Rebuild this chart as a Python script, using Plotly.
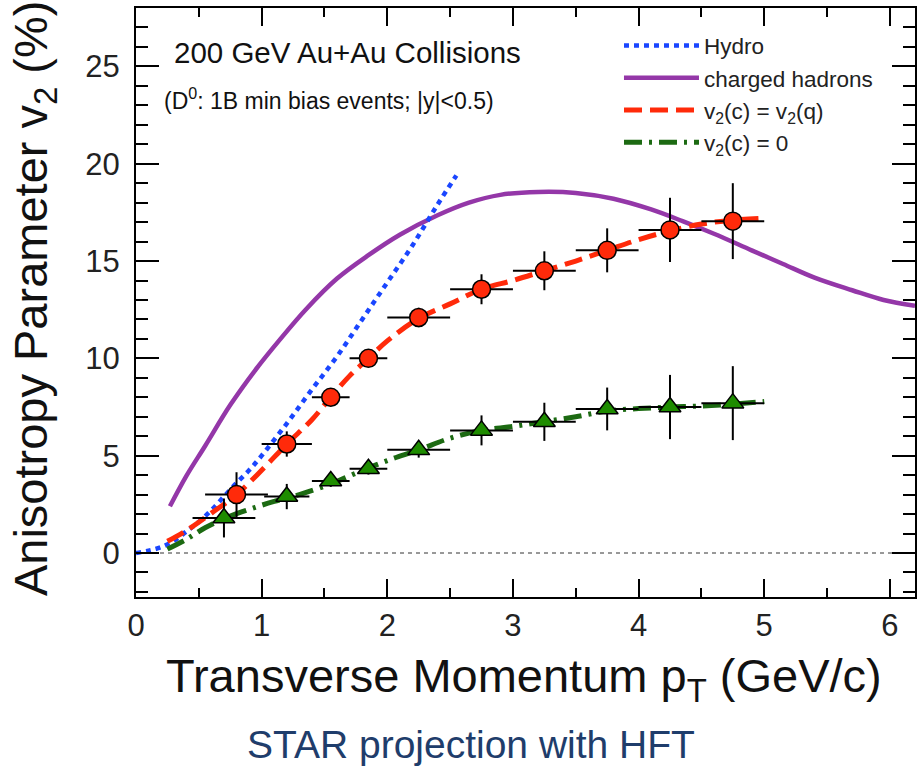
import plotly.graph_objects as go

# ---------------- data ----------------
hydro_x = [0, 0.1, 0.2, 0.3, 0.4, 0.5, 0.6, 0.7, 0.8, 0.9, 1.0, 1.2, 1.4, 1.6, 1.8, 2.0, 2.2, 2.4, 2.55]
hydro_y = [0, 0.12, 0.3, 0.62, 1.1, 1.6, 2.2, 2.9, 3.6, 4.25, 5.0, 6.65, 8.4, 10.1, 12.0, 13.9, 15.8, 17.9, 19.4]

ch_x = [0.27, 0.4, 0.55, 0.75, 0.95, 1.15, 1.35, 1.6, 1.85, 2.1, 2.4, 2.65, 2.9, 3.2, 3.5, 3.8,
        4.1, 4.35, 4.6, 4.9, 5.15, 5.4, 5.7, 5.95, 6.2]
ch_y = [2.4, 3.95, 5.5, 7.6, 9.4, 11.0, 12.5, 14.1, 15.3, 16.35, 17.35, 18.0, 18.4, 18.55, 18.5, 18.2,
        17.65, 17.05, 16.4, 15.55, 14.85, 14.15, 13.5, 13.0, 12.7]

cq_x = [0.25, 0.4, 0.6, 0.8, 1.0, 1.2, 1.4, 1.55, 1.7, 1.85, 2.0, 2.25, 2.5, 2.75, 3.0, 3.25, 3.5,
        3.75, 4.0, 4.25, 4.5, 4.75, 5.0]
cq_y = [0.6, 1.15, 2.05, 3.0, 4.25, 5.6, 6.85, 8.0, 9.1, 10.0, 10.9, 12.05, 12.8, 13.55, 14.0, 14.5,
        15.0, 15.55, 16.1, 16.55, 16.9, 17.1, 17.2]

c0_x = [0.25, 0.4, 0.55, 0.75, 0.95, 1.1, 1.3, 1.55, 1.75, 2.0, 2.25, 2.5, 2.75, 3.0, 3.25, 3.5,
        3.75, 4.0, 4.25, 4.5, 4.75, 5.0]
c0_y = [0.2, 0.7, 1.3, 1.9, 2.35, 2.65, 3.0, 3.55, 4.1, 4.75, 5.3, 5.9, 6.3, 6.5, 6.75, 7.0,
        7.3, 7.42, 7.5, 7.55, 7.65, 7.78]

circ_x = [0.8, 1.2, 1.55, 1.85, 2.25, 2.75, 3.25, 3.75, 4.25, 4.75]
circ_y = [3.0, 5.6, 8.0, 10.0, 12.1, 13.55, 14.5, 15.55, 16.6, 17.05]
circ_ex = [0.25, 0.2, 0.15, 0.15, 0.25, 0.25, 0.25, 0.25, 0.25, 0.25]
circ_ey = [1.15, 0.65, 0.3, 0.3, 0.5, 0.77, 1.0, 1.13, 1.65, 1.95]

tri_x = [0.7, 1.2, 1.55, 1.85, 2.25, 2.75, 3.25, 3.75, 4.25, 4.75]
tri_y = [1.8, 2.9, 3.7, 4.33, 5.3, 6.3, 6.74, 7.4, 7.5, 7.7]
tri_ex = [0.25, 0.18, 0.15, 0.15, 0.25, 0.25, 0.25, 0.25, 0.25, 0.25]
tri_ey = [1.0, 0.65, 0.3, 0.3, 0.4, 0.77, 0.98, 1.1, 1.65, 1.9]

FONT = "Liberation Sans, Arial, sans-serif"

fig = go.Figure()

# zero reference line
fig.add_trace(go.Scatter(x=[0, 6.2], y=[0, 0], mode="lines",
                         line=dict(color="#333333", width=1, dash="4px,4px"),
                         showlegend=False, hoverinfo="skip"))

fig.add_trace(go.Scatter(x=ch_x, y=ch_y, mode="lines", name="charged hadrons",
                         line=dict(color="#9437a8", width=4.5, shape="spline"),
                         legendrank=2))
fig.add_trace(go.Scatter(x=hydro_x, y=hydro_y, mode="lines", name="Hydro",
                         line=dict(color="#1a46ff", width=4.5, dash="5px,5px", shape="spline"),
                         legendrank=1))
fig.add_trace(go.Scatter(x=c0_x, y=c0_y, mode="lines", name="v<sub>2</sub>(c) = 0",
                         line=dict(color="#1c6a12", width=5, dash="18px,7px,3px,7px", shape="spline"),
                         legendrank=4))
fig.add_trace(go.Scatter(x=cq_x, y=cq_y, mode="lines", name="v<sub>2</sub>(c) = v<sub>2</sub>(q)",
                         line=dict(color="#ff2a0a", width=5, dash="18px,8px", shape="spline"),
                         legendrank=3))

fig.add_trace(go.Scatter(x=tri_x, y=tri_y, mode="markers", showlegend=False,
                         marker=dict(symbol="triangle-up", size=19, color="#1e8c00",
                                     line=dict(color="black", width=1.5)),
                         error_x=dict(type="data", array=tri_ex, color="black", thickness=2, width=0),
                         error_y=dict(type="data", array=tri_ey, color="black", thickness=2, width=0)))
fig.add_trace(go.Scatter(x=circ_x, y=circ_y, mode="markers", showlegend=False,
                         marker=dict(symbol="circle", size=18, color="#ff2a0a",
                                     line=dict(color="black", width=1.5)),
                         error_x=dict(type="data", array=circ_ex, color="black", thickness=2, width=0),
                         error_y=dict(type="data", array=circ_ey, color="black", thickness=2, width=0)))

axis_common = dict(showline=True, linecolor="black", linewidth=2, mirror="ticks",
                   ticks="inside", tickcolor="black", tickwidth=1.5, showgrid=False,
                   zeroline=False, tickfont=dict(family=FONT, size=31, color="#222222"))

fig.update_xaxes(range=[0, 6.2], dtick=1, tick0=0, ticklen=18, ticklabelstandoff=0,
                 minor=dict(dtick=0.5, ticklen=9, ticks="inside", tickcolor="black", tickwidth=1.5,
                            showgrid=False),
                 **axis_common)
fig.update_yaxes(range=[-2.26, 28], dtick=5, tick0=0, ticklen=23, ticklabelstandoff=8,
                 minor=dict(dtick=1, ticklen=12, ticks="inside", tickcolor="black", tickwidth=1.5,
                            showgrid=False),
                 **axis_common)

annotations = [
    dict(text="200 GeV Au+Au Collisions", x=0.046, y=0.925, xanchor="left", yanchor="middle",
         font=dict(family=FONT, size=29.5, color="#111111")),
    dict(text="(D<sup>0</sup>: 1B min bias events; |y|<0.5)", x=0.033, y=0.846, xanchor="left",
         yanchor="middle", font=dict(family=FONT, size=23, color="#111111")),
    dict(text="Transverse Momentum p<sub>T</sub> (GeV/c)", x=0.498, y=-0.14, xanchor="center",
         yanchor="middle", font=dict(family=FONT, size=47, color="#111111")),
    dict(text="Anisotropy Parameter v<sub>2</sub> (%)", x=-0.13, y=0.507, xanchor="center",
         yanchor="middle", textangle=-90, font=dict(family=FONT, size=47, color="#111111")),
    dict(text="STAR projection with HFT", x=0.43, y=-0.251, xanchor="center", yanchor="middle",
         font=dict(family=FONT, size=39, color="#1f3d6b")),
]
for a in annotations:
    a.update(xref="paper", yref="paper", showarrow=False)

fig.update_layout(
    width=922, height=774,
    margin=dict(l=136, r=5, t=8, b=177),
    plot_bgcolor="white", paper_bgcolor="white",
    annotations=annotations,
    legend=dict(x=0.62, y=0.972, xanchor="left", yanchor="top", bgcolor="rgba(0,0,0,0)",
                font=dict(family=FONT, size=22.5, color="#222222"), traceorder="normal",
                itemwidth=75),
    font=dict(family=FONT),
)

fig.write_html("out.html")
